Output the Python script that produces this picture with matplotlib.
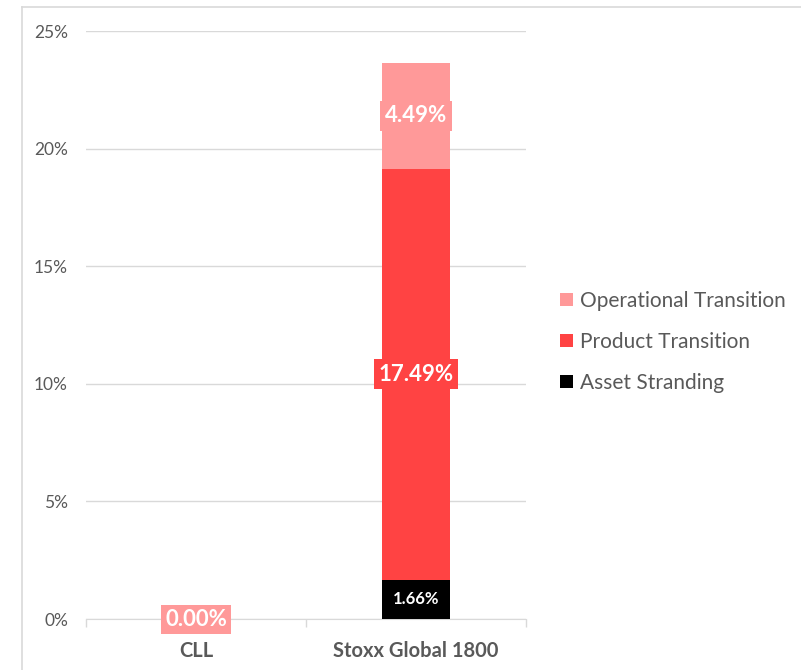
import numpy as np
import matplotlib.pyplot as plt
from matplotlib.lines import Line2D

plt.rcParams['font.family'] = ['Lato', 'DejaVu Sans']

categories = ['CLL', 'Stoxx Global 1800']
series = ['Asset Stranding', 'Product Transition', 'Operational Transition']
asset = [0.0, 1.66]
product = [0.0, 17.49]
operational = [0.0, 4.49]
colors = ['#000000', '#FF4343', '#FF9999']
yticks = [0, 5, 10, 15, 20, 25]

fig = plt.figure(figsize=(8.01, 6.70), dpi=100)
ax = fig.add_axes([0.1074, 0.0761, 0.5493, 0.8776])

x = np.arange(len(categories))
vals = [asset, product, operational]
bottom = np.zeros(len(categories))
bars = []
for name, v, c in zip(series, vals, colors):
    b = ax.bar(x, v, 0.31, bottom=bottom, color=c, label=name, zorder=3)
    bars.append(b)
    bottom = bottom + np.array(v)

# data labels
gray = '#595959'
for i in range(len(categories)):
    base = 0.0
    for k, (v, c) in enumerate(zip(vals, colors)):
        val = v[i]
        if val > 0:
            fs = 12 if k == 0 else 16
            pad = 0.45 if k == 0 else 0.2
            ax.text(x[i], base + val / 2, f'{val:.2f}%', ha='center', va='center',
                    color='white', fontsize=fs, fontweight='bold', zorder=5,
                    bbox=dict(boxstyle=f'square,pad={pad}', fc=c, ec='none'))
        base += val
# CLL has nothing stacked, label at the baseline
ax.text(x[0], 0, f'{operational[0]:.2f}%', ha='center', va='center', color='white',
        fontsize=16, fontweight='bold', zorder=5,
        bbox=dict(boxstyle='square,pad=0.18', fc=colors[2], ec='none'))

ax.set_xlim(-0.5, 1.5)
ax.set_ylim(0, 25)
ax.set_yticks(yticks)
ax.set_yticklabels([f'{t}%' for t in yticks], color=gray, fontsize=12.5)
ax.yaxis.grid(True, color='#D9D9D9', linewidth=1, zorder=0)
ax.tick_params(axis='y', length=0, pad=13)

ax.set_xticks(x)
ax.set_xticklabels(categories, fontsize=14.5, fontweight='bold', color=gray)
ax.set_xticks([-0.5, 0.5, 1.5], minor=True)
ax.tick_params(axis='x', which='major', length=0, pad=16)
ax.tick_params(axis='x', which='minor', length=6, color='#D9D9D9', width=1)

for s in ['top', 'right', 'left']:
    ax.spines[s].set_visible(False)
ax.spines['bottom'].set_color('#D9D9D9')

handles = [bars[2], bars[1], bars[0]]
leg = fig.legend(handles, [series[2], series[1], series[0]], loc='center left',
                 bbox_to_anchor=(0.676, 0.49), frameon=False, fontsize=15,
                 labelcolor=gray, handlelength=0.6, handleheight=0.6,
                 handletextpad=0.35, labelspacing=1.0)

# chart border
fig.add_artist(Line2D([0.0275, 1.0], [0.9896, 0.9896], color='#D9D9D9', lw=1.2))
fig.add_artist(Line2D([0.0275, 0.0275], [0.0, 0.9896], color='#D9D9D9', lw=1.2))

fig.savefig('out.png', dpi=100)
